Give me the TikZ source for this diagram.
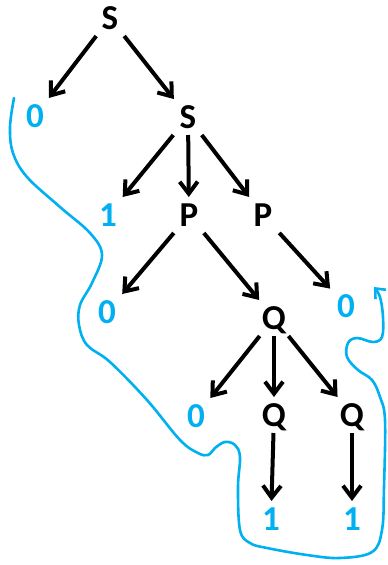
\documentclass[tikz,border=0pt]{standalone}
\usepackage{fontspec}
\setmainfont{Carlito}
\usetikzlibrary{arrows.meta}
\definecolor{skyb}{HTML}{00B0F0}
\tikzset{
  lbl/.style={font=\fontsize{35}{35}\selectfont\bfseries, text height=22pt, text depth=0pt, inner sep=7pt, outer sep=0pt},
  blk/.style={lbl, text=black},
  blu/.style={lbl, text=skyb},
  arr/.style={line width=4pt, -{Straight Barb[length=12pt,width=18pt,line width=4pt]}},
  loopline/.style={skyb, line width=2.6pt, line cap=round, line join=round}
}
\begin{document}
\begin{tikzpicture}[x=1pt,y=-1pt]
\useasboundingbox (0,0) rectangle (388,565);
\node[blk] (s1) at (110,18) {S};
\node[blu] (z1) at (35,116) {0};
\node[blk] (s2) at (188,117) {S};
\node[blu] (o1) at (108,215) {1};
\node[blk] (p1) at (189,215) {P};
\node[blk] (p2) at (263,215) {P};
\node[blu] (z2) at (107,312) {0};
\node[blk] (q1) at (274,318) {Q};
\node[blu] (z3) at (346,306) {0};
\node[blu] (z4) at (196,416) {0};
\node[blk] (q2) at (274,415) {Q};
\node[blk] (q3) at (352,415) {Q};
\node[blu] (o2) at (271,519) {1};
\node[blu] (o3) at (352,519) {1};
\draw[arr] (s1) -- (z1);
\draw[arr] (s1) -- (s2);
\draw[arr] (s2) -- (o1);
\draw[arr] (s2) -- (p1);
\draw[arr] (s2) -- (p2);
\draw[arr] (p1) -- (z2);
\draw[arr] (p1) -- (q1);
\draw[arr] (p2) -- (z3);
\draw[arr] (q1) -- (z4);
\draw[arr] (q1) -- (q2);
\draw[arr] (q1) -- (q3);
\draw[arr] (q2) -- (o2);
\draw[arr] (q3) -- (o3);
\draw[loopline, -{Straight Barb[length=8pt,width=14pt,line width=2.6pt]}] plot[smooth, tension=0.6] coordinates {
 (14,98) (10,127) (13,153) (27,177) (60,207) (90,233) (102,255) (92,283) (80,305) (79,325) (87,345) (110,362) (147,400) (180,440) (198,453) (208,455) (215,448) (225,442) (235,445) (240,457) (238,487) (240,530) (250,543) (267,548) (307,555) (340,558) (372,552) (382,530) (384,487) (385,420) (380,397) (372,380) (358,370) (347,357) (348,343) (357,338) (373,342) (382,337) (383,317) (380,297) (374,287)};
\end{tikzpicture}
\end{document}
